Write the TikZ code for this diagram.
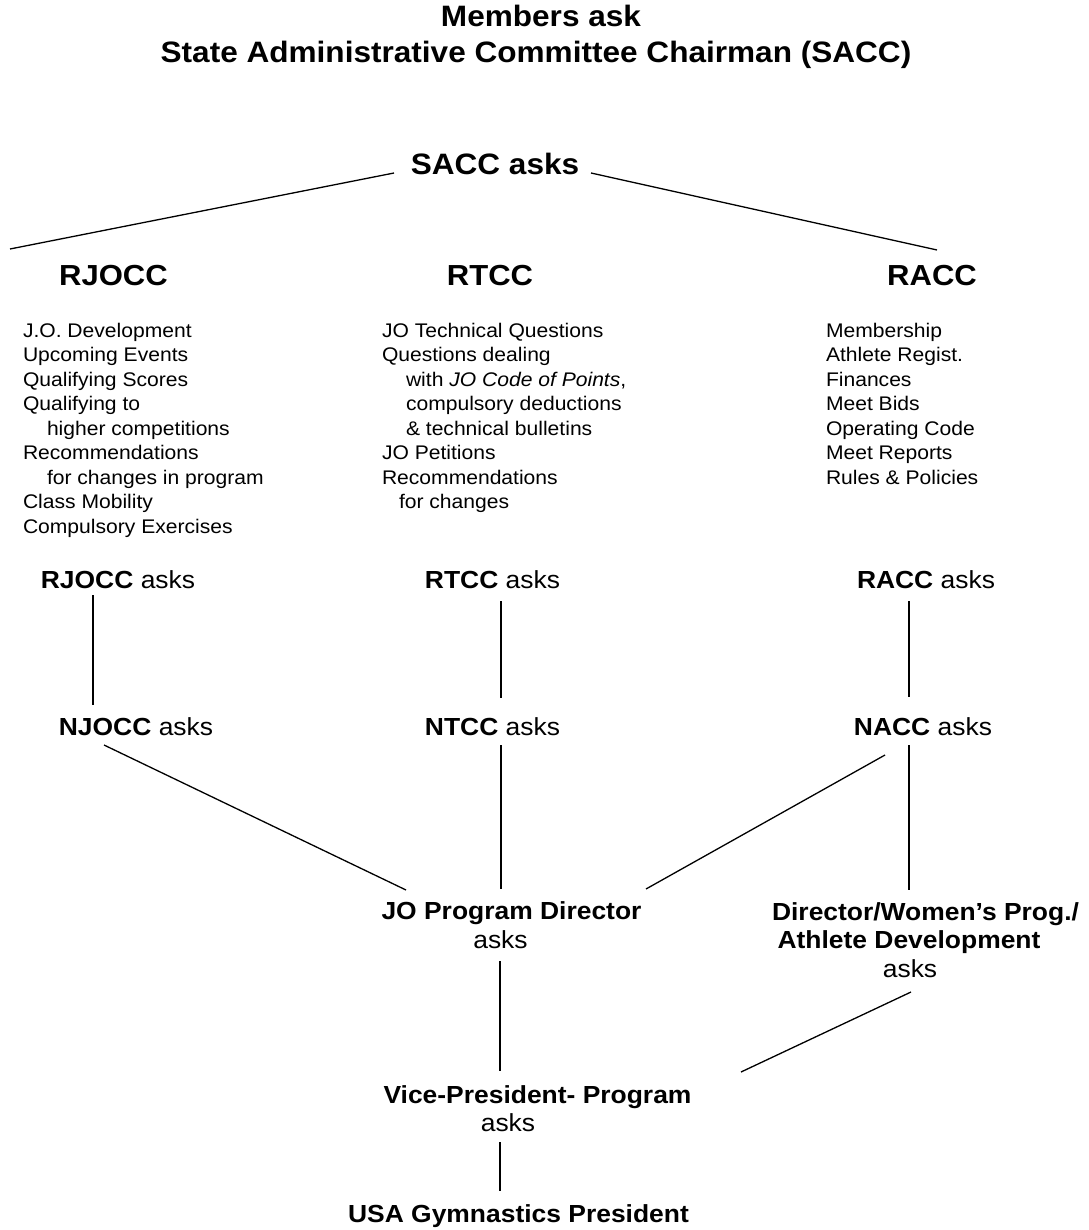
\documentclass[tikz,border=0pt]{standalone}
\usepackage{fontspec}
\setmainfont{Liberation Sans}[FakeStretch=1.07]
\begin{document}
\begin{tikzpicture}[x=1pt,y=-1pt,
  every node/.style={inner sep=0pt, outer sep=0pt, anchor=base, text=black},
  ttl/.style={font=\fontsize{29.5pt}{35pt}\selectfont\bfseries},
  hdr/.style={font=\fontsize{29pt}{35pt}\selectfont\bfseries},
  lst/.style={font=\fontsize{19.7pt}{24.5pt}\selectfont, anchor=base west},
  lvl/.style={font=\fontsize{24.7pt}{28pt}\selectfont},
  link/.style={draw=black, line width=1.3pt}]
\fill[white] (0,0) rectangle (1088,1230);
\useasboundingbox (0,0) rectangle (1088,1230);

% titles
\node[ttl] (title1) at (541,27) {Members ask};
\node[ttl] (title2) at (536,63) {State Administrative Committee Chairman (SACC)};
\node[ttl] (sacc) at (495,175) {SACC asks};
\coordinate (cL) at (10,249);
\coordinate (cR) at (937,250);

% headers
\node[hdr] (rjocc) at (113.5,286) {RJOCC};
\node[hdr] (rtcc) at (490,286) {RTCC};
\node[hdr] (racc) at (932,286) {RACC};

% lists
\node[lst] (rjlist) at (23,337) {\vtop{%
\hbox{J.O. Development}
\hbox{Upcoming Events}
\hbox{Qualifying Scores}
\hbox{Qualifying to}
\hbox{\hskip24pt higher competitions}
\hbox{Recommendations}
\hbox{\hskip24pt for changes in program}
\hbox{Class Mobility}
\hbox{Compulsory Exercises}}};
\node[lst] (rtlist) at (382,337) {\vtop{%
\hbox{JO Technical Questions}
\hbox{Questions dealing}
\hbox{\hskip24pt with \textit{JO Code of Points},}
\hbox{\hskip24pt compulsory deductions}
\hbox{\hskip24pt \& technical bulletins}
\hbox{JO Petitions}
\hbox{Recommendations}
\hbox{\hskip17pt for changes}}};
\node[lst] (ralist) at (826,337) {\vtop{%
\hbox{Membership}
\hbox{Athlete Regist.}
\hbox{Finances}
\hbox{Meet Bids}
\hbox{Operating Code}
\hbox{Meet Reports}
\hbox{Rules \& Policies}}};

% asks levels
\node[lvl] (rjoccasks) at (118,588) {\textbf{RJOCC} asks};
\node[lvl] (rtccasks) at (492.5,588) {\textbf{RTCC} asks};
\node[lvl] (raccasks) at (926,588) {\textbf{RACC} asks};
\node[lvl] (njoccasks) at (136,735) {\textbf{NJOCC} asks};
\node[lvl] (ntccasks) at (492.5,735) {\textbf{NTCC} asks};
\node[lvl] (naccasks) at (923,735) {\textbf{NACC} asks};

\node[lvl] (jodir) at (511.5,919) {\textbf{JO Program Director}};
\node[lvl] (joasks) at (500.5,948) {asks};
\node[lvl] (dirA) at (925.5,920) {\textbf{Director/Women’s Prog./}};
\node[lvl] (dirB) at (909,948) {\textbf{Athlete Development}};
\node[lvl] (dirC) at (910,977) {asks};

\node[lvl] (vp) at (537.5,1103) {\textbf{Vice-President- Program}};
\node[lvl] (vpasks) at (508,1131) {asks};
\node[lvl] (usa) at (518.5,1222) {\textbf{USA Gymnastics President}};

% connectors
\draw[link] ([shift={(-101,-2)}]sacc.base) -- (cL);
\draw[link] ([shift={(96,-2)}]sacc.base) -- (cR);
\draw[link] ([shift={(-25,7)}]rjoccasks.base) -- ([shift={(-43,-30)}]njoccasks.base);
\draw[link] ([shift={(8.5,13)}]rtccasks.base) -- ([shift={(8.5,-37)}]ntccasks.base);
\draw[link] ([shift={(-17,13)}]raccasks.base) -- ([shift={(-14,-38)}]naccasks.base);
\draw[link] ([shift={(-32,10)}]njoccasks.base) -- ([shift={(-105.5,-29)}]jodir.base);
\draw[link] ([shift={(8.5,10)}]ntccasks.base) -- ([shift={(-10.5,-30)}]jodir.base);
\draw[link] ([shift={(-38,20)}]naccasks.base) -- ([shift={(134.5,-30)}]jodir.base);
\draw[link] ([shift={(-14,10)}]naccasks.base) -- ([shift={(-16.5,-30)}]dirA.base);
\draw[link] ([shift={(-0.5,13)}]joasks.base) -- ([shift={(-37.5,-32)}]vp.base);
\draw[link] ([shift={(1,15)}]dirC.base) -- ([shift={(203.5,-31)}]vp.base);
\draw[link] ([shift={(-8,11)}]vpasks.base) -- ([shift={(-18.5,-31)}]usa.base);
\end{tikzpicture}
\end{document}
